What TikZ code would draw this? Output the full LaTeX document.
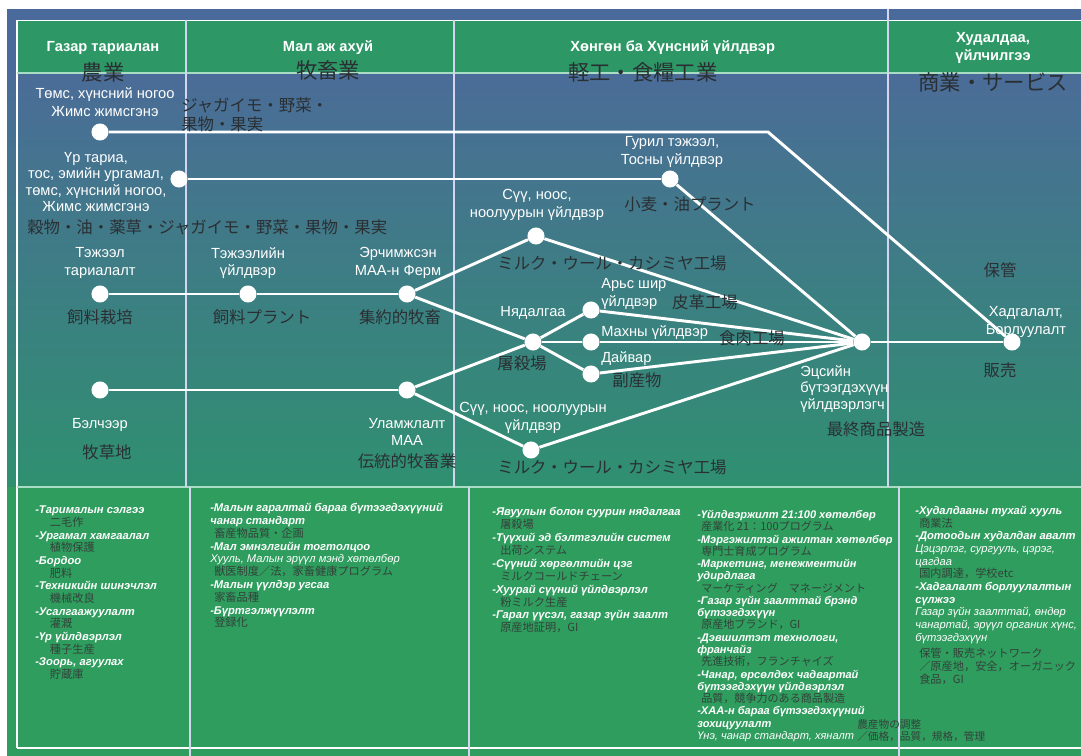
\documentclass[tikz,border=0pt]{standalone}
\usepackage{fontspec}
\setmainfont{Liberation Sans}
\newfontfamily\jpfont{Noto Sans CJK JP}
\definecolor{outerblue}{HTML}{4A6A9C}
\definecolor{topblue}{HTML}{4B6C98}
\definecolor{midteal}{HTML}{377E8A}
\definecolor{botgreen}{HTML}{2F9070}
\definecolor{headgreen}{HTML}{2D9866}
\definecolor{notegreen}{HTML}{2F9D5E}
\definecolor{jpdark}{HTML}{2A2F33}
\definecolor{notejp}{HTML}{33423A}
\definecolor{divider}{HTML}{D4D6F0}
\definecolor{paleline}{HTML}{A9DCC4}
\newcommand\nbi[1]{{\bfseries\itshape #1}}
\newcommand\nit[1]{{\itshape #1}}
\newcommand\njp[1]{{\jpfont\color{notejp}#1}}
\begin{document}
\begin{tikzpicture}[x=0.75pt,y=-0.75pt,
  dot/.style={circle,fill=white,draw=none,minimum size=12.8pt,inner sep=0pt},
  link/.style={draw=white,line width=2.2pt},
  lab/.style={text=white,font=\fontsize{11}{13}\selectfont,align=center,inner sep=0pt},
  labl/.style={lab,align=left},
  jplab/.style={text=jpdark,font=\jpfont\fontsize{12.3}{14.5}\selectfont,align=left,inner sep=0pt},
  head/.style={text=white,font=\bfseries\fontsize{11}{13}\selectfont,align=center,inner sep=0pt},
  jphead/.style={text=jpdark,font=\jpfont\fontsize{16}{18}\selectfont,inner sep=0pt},
  note/.style={text=white,align=left,inner sep=0pt,anchor=north west},
  rule/.style={draw=divider,line width=1.1pt}]
\useasboundingbox (0,0) rectangle (1081,756);
% background panels
\fill[white] (0,0) rectangle (1081,756);
\fill[outerblue] (7,9) rectangle (1081,74);
\shade[top color=topblue,middle color=midteal,bottom color=botgreen] (7,73) rectangle (1081,487);
\fill[headgreen] (17,21) rectangle (1081,73);
\fill[notegreen] (7,487) rectangle (1081,756);
% frame and section rules
\draw[white,line width=1.3pt] (17,748) -- (17,20.5) -- (1081,20.5);
\draw[white,line width=1.3pt] (17,748) -- (1081,748);
\draw[paleline,line width=0.8pt] (17,73) -- (1081,73);
\draw[paleline,line width=1.1pt] (17,487) -- (1081,487);
\draw[rule] (186,20) -- (186,487);
\draw[rule] (454,20) -- (454,487);
\draw[rule] (888,9) -- (888,487);
\draw[rule] (190,487) -- (190,756);
\draw[rule] (469,487) -- (469,756);
\draw[rule] (899,487) -- (899,756);

% column headings
\node[head] (h1) at (103,48) {Газар тариалан};
\node[jphead] (h1j) at (103,72) {農業};
\node[head] (h2) at (328,48) {Мал аж ахуй};
\node[jphead] (h2j) at (328,70) {牧畜業};
\node[head,anchor=west] (h3) at (570,48) {Хөнгөн ба Хүнсний үйлдвэр};
\node[jphead,anchor=west] (h3j) at (568,72) {軽工・食糧工業};
\node[head] (h4) at (993,48) {Худалдаа,\\үйлчилгээ};
\node[jphead] (h4j) at (993,82) {商業・サービス};

% flow nodes
\node[dot] (n1) at (100,132) {};
\node[dot] (n2) at (179,179) {};
\node[dot] (n3) at (670,179) {};
\node[dot] (n4) at (100,294) {};
\node[dot] (n5) at (248,294) {};
\node[dot] (n6) at (407,294) {};
\node[dot] (n7) at (536,236) {};
\node[dot] (n8) at (533,342) {};
\node[dot] (n9) at (591,310) {};
\node[dot] (n10) at (591,342) {};
\node[dot] (n11) at (591,374) {};
\node[dot] (n12) at (407,390) {};
\node[dot] (n13) at (100,390) {};
\node[dot] (n14) at (531,450) {};
\node[dot] (n15) at (862,342) {};
\node[dot] (n16) at (1012,342) {};
\coordinate (bend) at (768,132);

% connectors
\draw[link] (n1) -- (bend) -- (n16);
\draw[link] (n2) -- (n3);
\draw[link] (n3) -- (n15);
\draw[link] (n4) -- (n5);
\draw[link] (n5) -- (n6);
\draw[link] (n6) -- (n7);
\draw[link] (n6) -- (n8);
\draw[link] (n13) -- (n12);
\draw[link] (n12) -- (n8);
\draw[link] (n12) -- (n14);
\draw[link] (n8) -- (n9);
\draw[link] (n8) -- (n10);
\draw[link] (n8) -- (n11);
\draw[link] (n7) -- (n15);
\draw[link] (n9) -- (n15);
\draw[link] (n10) -- (n15);
\draw[link] (n11) -- (n15);
\draw[link] (n14) -- (n15);
\draw[link] (n15) -- (n16);

% labels
\node[lab] (t1) at (105,102) {Төмс, хүнсний ногоо\\Жимс жимсгэнэ};
\node[jplab,anchor=north west] (j1) at (181,97) {ジャガイモ・野菜・\\果物・果実};
\node[lab,font=\fontsize{11}{12.3}\selectfont] (t2) at (96,182) {Үр тариа,\\тос, эмийн ургамал,\\төмс, хүнсний ногоо,\\Жимс жимсгэнэ};
\node[jplab,anchor=west] (j2) at (27,227) {穀物・油・薬草・ジャガイモ・野菜・果物・果実};
\node[lab] (t4) at (100,263) {Тэжээл\\тариалалт};
\node[lab] (t5) at (248,263) {Тэжээлийн\\үйлдвэр};
\node[lab] (t6) at (398,263) {Эрчимжсэн\\МАА-н Ферм};
\node[jplab] (j4) at (100,317) {飼料栽培};
\node[jplab] (j5) at (262,317) {飼料プラント};
\node[jplab] (j6) at (400,317) {集約的牧畜};
\node[lab] (t7) at (537,205) {Сүү, ноос,\\ноолуурын үйлдвэр};
\node[jplab] (j7) at (612,263) {ミルク・ウール・カシミヤ工場};
\node[lab] (t3) at (672,152) {Гурил тэжээл,\\Тосны үйлдвэр};
\node[jplab] (j3) at (690,204) {小麦・油プラント};
\node[jplab] (j16a) at (1000,270) {保管};
\node[lab] (t16) at (1026,322) {Хадгалалт,\\Борлуулалт};
\node[jplab] (j16) at (1000,370) {販売};
\node[lab] (t8) at (533,313) {Нядалгаа};
\node[jplab] (j8) at (522,363) {屠殺場};
\node[labl,anchor=west] (t9) at (601,294) {Арьс шир\\үйлдвэр};
\node[jplab] (j9) at (705,302) {皮革工場};
\node[labl,anchor=west] (t10) at (601,333) {Махны үйлдвэр};
\node[jplab] (j10) at (752,338) {食肉工場};
\node[labl,anchor=west] (t11) at (601,359) {Дайвар};
\node[jplab] (j11) at (637,380) {副産物};
\node[lab] (t14) at (533,418) {Сүү, ноос, ноолуурын\\үйлдвэр};
\node[jplab] (j14) at (612,467) {ミルク・ウール・カシミヤ工場};
\node[labl,anchor=north west,font=\fontsize{11}{12.6}\selectfont] (t15) at (800,365) {Эцсийн\\бүтээгдэхүүн\\үйлдвэрлэгч};
\node[jplab] (j15) at (876,429) {最終商品製造};
\node[lab] (t13) at (100,425) {Бэлчээр};
\node[jplab] (j13) at (107,452) {牧草地};
\node[lab] (t12) at (407,432) {Уламжлалт\\МАА};
\node[jplab] (j12) at (407,461) {伝統的牧畜業};

% policy notes
\node[note,font=\fontsize{8.4}{9.5}\selectfont] (c1) at (35,506) {%
\nbi{-Тарималын сэлгээ}\\\hspace*{11pt}\njp{二毛作}\\
\nbi{-Ургамал хамгаалал}\\\hspace*{11pt}\njp{植物保護}\\
\nbi{-Бордоо}\\\hspace*{11pt}\njp{肥料}\\
\nbi{-Техникийн шинэчлэл}\\\hspace*{11pt}\njp{機械改良}\\
\nbi{-Усалгаажуулалт}\\\hspace*{11pt}\njp{灌漑}\\
\nbi{-Үр үйлдвэрлэл}\\\hspace*{11pt}\njp{種子生産}\\
\nbi{-Зоорь, агуулах}\\\hspace*{11pt}\njp{貯蔵庫}};
\node[note,font=\fontsize{8.4}{9.6}\selectfont] (c2) at (210,503) {%
\nbi{-Малын гаралтай бараа бүтээгдэхүүний}\\\nbi{чанар стандарт}\\
\hspace*{3pt}\njp{畜産物品質・企画}\\
\nbi{-Мал эмнэлгийн тогтолцоо}\\\nit{Хууль, Малын эрүүл мэнд хөтөлбөр}\\
\hspace*{3pt}\njp{獣医制度／法，家畜健康プログラム}\\
\nbi{-Малын үүлдэр угсаа}\\\hspace*{3pt}\njp{家畜品種}\\
\nbi{-Бүртгэлжүүлэлт}\\\hspace*{3pt}\njp{登録化}};
\node[note,font=\fontsize{8.4}{9.7}\selectfont] (c3) at (492,507) {%
\nbi{-Явуулын болон суурин нядалгаа}\\\hspace*{6pt}\njp{屠殺場}\\
\nbi{-Түүхий эд бэлтгэлийн систем}\\\hspace*{6pt}\njp{出荷システム}\\
\nbi{-Сүүний хөргөлтийн цэг}\\\hspace*{6pt}\njp{ミルクコールドチェーン}\\
\nbi{-Хуурай сүүний үйлдвэрлэл}\\\hspace*{6pt}\njp{粉ミルク生産}\\
\nbi{-Гарал үүсэл, газар зүйн заалт}\\\hspace*{6pt}\njp{原産地証明，GI}};
\node[note,font=\fontsize{8.3}{9.2}\selectfont] (c4) at (697,510) {%
\nbi{-Үйлдвэржилт 21:100 хөтөлбөр}\\\hspace*{3pt}\njp{産業化 21：100プログラム}\\
\nbi{-Мэргэжилтэй ажилтан хөтөлбөр}\\\hspace*{3pt}\njp{専門士育成プログラム}\\
\nbi{-Маркетинг, менежментийн}\\\nbi{удирдлага}\\\hspace*{3pt}\njp{マーケティング　マネージメント}\\
\nbi{-Газар зүйн заалттай брэнд}\\\nbi{бүтээгдэхүүн}\\\hspace*{3pt}\njp{原産地ブランド，GI}\\
\nbi{-Дэвшилтэт технологи,}\\\nbi{франчайз}\\\hspace*{3pt}\njp{先進技術，フランチャイズ}\\
\nbi{-Чанар, өрсөлдөх чадвартай}\\\nbi{бүтээгдэхүүн үйлдвэрлэл}\\\hspace*{3pt}\njp{品質，競争力のある商品製造}\\
\nbi{-ХАА-н бараа бүтээгдэхүүний}\\\nbi{зохицуулалт}\\\nit{Үнэ, чанар стандарт, хяналт}};
\node[note,font=\fontsize{8}{9.4}\selectfont] (c4b) at (857,719) {%
\njp{農産物の調整}\\\njp{／価格，品質，規格，管理}};
\node[note,font=\fontsize{8.4}{9.5}\selectfont] (c5) at (915,506) {%
\nbi{-Худалдааны тухай хууль}\\\hspace*{3pt}\njp{商業法}\\
\nbi{-Дотоодын худалдан авалт}\\\nit{Цэцэрлэг, сургууль, цэрэг,}\\\nit{цагдаа}\\
\hspace*{3pt}\njp{国内調達，学校etc}\\
\nbi{-Хадгалалт борлуулалтын}\\\nbi{сүлжээ}\\
\nit{Газар зүйн заалттай, өндөр}\\\nit{чанартай, эрүүл органик хүнс,}\\\nit{бүтээгдэхүүн}\\[3pt]
\hspace*{3pt}\njp{保管・販売ネットワーク}\\\hspace*{3pt}\njp{／原産地，安全，オーガニック}\\\hspace*{3pt}\njp{食品，GI}};
\end{tikzpicture}
\end{document}
